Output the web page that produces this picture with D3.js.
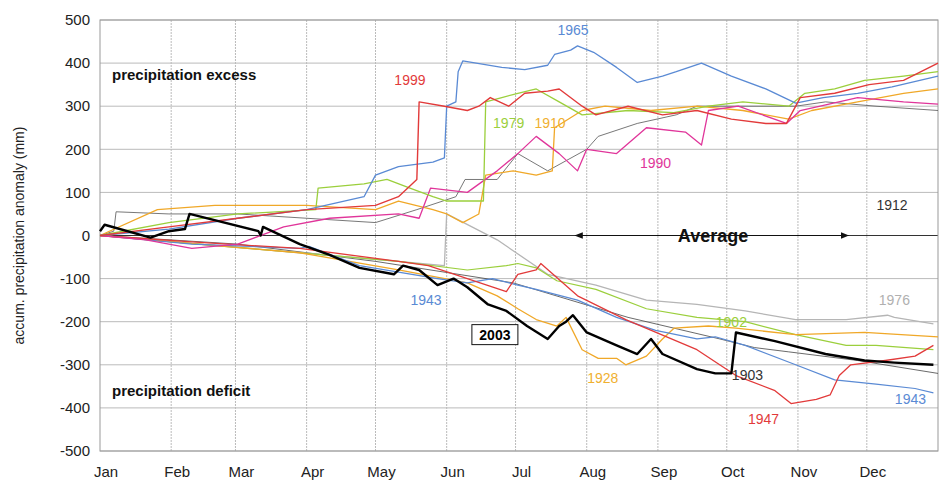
<!DOCTYPE html>
<html><head><meta charset="utf-8">
<script src="https://cdn.jsdelivr.net/npm/d3@7"></script>
<style>body{margin:0;background:#fff}svg{display:block;font-family:"Liberation Sans",Arial,sans-serif}</style>
</head><body><svg id="chart"></svg>
<script>
// months and ticks
const months = ["Jan","Feb","Mar","Apr","May","Jun","Jul","Aug","Sep","Oct","Nov","Dec"];
const monthStart = [0,31,59,90,120,151,181,212,243,273,304,334];
const yTicks = [-500,-400,-300,-200,-100,0,100,200,300,400,500];

// series: [day of year, accumulated anomaly mm]
const s1965 = [[0,0],[30,15],[60,40],[90,60],[115,90],[120,140],[130,160],[145,170],[150,180],[151,300],[155,310],[156,380],[158,405],[175,390],[185,385],[195,395],[198,420],[205,430],[208,440],[215,425],[225,390],[234,355],[245,370],[251,380],[262,400],[275,370],[290,340],[303,307],[315,320],[330,330],[345,345],[365,370]];
const s1999 = [[0,0],[30,20],[60,40],[90,60],[120,70],[130,90],[138,130],[139,310],[150,300],[160,290],[165,300],[170,320],[178,300],[185,330],[195,335],[200,340],[210,300],[216,280],[230,300],[245,280],[260,290],[275,270],[290,260],[299,260],[305,320],[320,330],[335,350],[350,360],[365,400]];
const s1979 = [[0,0],[30,30],[60,50],[94,60],[95,110],[115,120],[125,130],[135,110],[145,90],[151,80],[167,80],[168,310],[175,320],[182,330],[190,340],[200,310],[210,280],[230,290],[250,285],[265,300],[280,310],[300,300],[307,330],[320,340],[333,360],[350,370],[365,380]];
const s1910 = [[0,0],[25,60],[50,70],[90,70],[120,60],[130,80],[145,60],[151,50],[158,30],[165,50],[168,140],[180,150],[190,140],[197,150],[198,250],[210,290],[220,300],[240,290],[260,300],[280,290],[300,270],[310,290],[330,310],[350,330],[365,340]];
const s1990 = [[0,0],[20,-10],[40,-30],[60,-20],[80,20],[100,40],[130,50],[139,40],[144,110],[160,100],[173,150],[182,190],[190,230],[200,190],[208,150],[212,200],[225,190],[238,250],[255,240],[262,210],[265,290],[278,300],[299,260],[305,290],[330,320],[350,310],[365,305]];
const s1912 = [[0,0],[6,10],[7,55],[30,50],[60,50],[90,40],[120,30],[138,60],[155,90],[159,130],[173,130],[182,190],[195,150],[212,200],[217,230],[234,260],[251,280],[260,300],[303,300],[316,310],[338,300],[365,290]];
const s1943 = [[0,0],[40,-20],[87,-30],[91,-25],[113,-70],[130,-85],[147,-100],[160,-110],[171,-100],[182,-115],[190,-125],[208,-150],[225,-190],[242,-220],[260,-240],[268,-235],[281,-255],[303,-300],[320,-335],[338,-345],[355,-355],[363,-365]];
const s1947 = [[0,0],[40,-15],[87,-30],[130,-60],[143,-70],[160,-100],[177,-130],[182,-90],[190,-80],[192,-65],[208,-140],[229,-195],[260,-265],[277,-325],[294,-360],[301,-390],[312,-380],[318,-370],[322,-325],[327,-300],[342,-290],[355,-280],[363,-255]];
const s1928 = [[0,0],[43,-20],[87,-40],[130,-80],[160,-110],[173,-140],[182,-170],[190,-195],[199,-210],[203,-190],[210,-265],[217,-285],[225,-285],[229,-300],[238,-280],[245,-240],[250,-215],[265,-210],[277,-215],[303,-230],[333,-225],[365,-235]];
const s1976 = [[0,0],[43,-20],[87,-40],[130,-60],[150,-70],[151,50],[173,-10],[195,-90],[216,-115],[238,-150],[260,-160],[281,-175],[303,-195],[325,-195],[343,-185],[346,-190],[363,-205]];
const s1902 = [[0,0],[43,-20],[87,-40],[130,-60],[160,-80],[177,-70],[182,-65],[190,-75],[199,-105],[216,-125],[238,-170],[260,-190],[281,-200],[303,-230],[325,-255],[338,-255],[363,-265]];
const s1903 = [[0,0],[60,-20],[120,-60],[180,-110],[230,-190],[270,-240],[285,-260],[300,-270],[330,-290],[365,-320]];
const s2003 = [[0,10],[2,25],[22,-5],[30,10],[37,15],[39,50],[69,10],[70,0],[71,20],[87,-20],[100,-45],[113,-75],[128,-90],[132,-70],[139,-80],[147,-115],[154,-100],[160,-120],[169,-160],[177,-175],[186,-210],[195,-240],[200,-210],[203,-200],[206,-185],[212,-225],[225,-255],[234,-275],[240,-240],[245,-275],[260,-310],[268,-320],[275,-320],[277,-225],[294,-245],[316,-275],[333,-290],[346,-295],[363,-300]];

const series = [
  {data:s1903,color:"#444",w:0.8},
  {data:s1976,color:"#b5b5b5",w:1.3},
  {data:s1902,color:"#9bcf3c",w:1.2},
  {data:s1928,color:"#f0a828",w:1.3},
  {data:s1943,color:"#5a8ad4",w:1.2},
  {data:s1947,color:"#e23a3a",w:1.3},
  {data:s1912,color:"#555",w:0.8},
  {data:s1910,color:"#f0a828",w:1.3},
  {data:s1990,color:"#e0359a",w:1.3},
  {data:s1979,color:"#9bcf3c",w:1.3},
  {data:s1965,color:"#5a8ad4",w:1.3},
  {data:s1999,color:"#e23a3a",w:1.4},
  {data:s2003,color:"#000",w:2.4}
];

const labels = [
  {t:"1965",d:206,v:477,c:"#5a8ad4"},{t:"1999",d:135,v:360,c:"#e23a3a"},
  {t:"1979",d:178,v:260,c:"#9bcf3c"},{t:"1910",d:196,v:260,c:"#f0b030"},
  {t:"1990",d:242,v:168,c:"#e0359a"},{t:"1912",d:345,v:70,c:"#333"},
  {t:"1943",d:142,v:-150,c:"#5a8ad4"},{t:"1928",d:219,v:-330,c:"#f0b030"},
  {t:"1902",d:275,v:-200,c:"#9bcf3c"},{t:"1903",d:282,v:-325,c:"#333"},
  {t:"1947",d:289,v:-425,c:"#e23a3a"},{t:"1976",d:346,v:-150,c:"#b0b0b0"},
  {t:"1943",d:353,v:-380,c:"#5a8ad4"}
];

const W = 946, H = 488;
const svg = d3.select("#chart").attr("width", W).attr("height", H);
const x = d3.scaleLinear().domain([0, 365]).range([100, 938]);
const y = d3.scaleLinear().domain([-500, 500]).range([451, 20]);

// grid
svg.append("g").selectAll("line").data(yTicks).join("line")
  .attr("x1", x(0)).attr("x2", x(365)).attr("y1", d => y(d)).attr("y2", d => y(d))
  .attr("stroke", d => d === 0 ? "#333" : "#bbb").attr("stroke-width", d => d === 0 ? 1.2 : 1);
svg.append("g").selectAll("line").data(monthStart.slice(1)).join("line")
  .attr("x1", d => x(d)).attr("x2", d => x(d)).attr("y1", y(500)).attr("y2", y(-500))
  .attr("stroke", "#bbb").attr("stroke-dasharray", "2,1");
svg.append("rect").attr("x", x(0)).attr("y", y(500)).attr("width", x(365) - x(0)).attr("height", y(-500) - y(500))
  .attr("fill", "none").attr("stroke", "#999");

// y axis labels
svg.append("g").selectAll("text").data(yTicks).join("text")
  .attr("x", 90).attr("y", d => y(d)).attr("dy", "0.35em").attr("text-anchor", "end")
  .attr("font-size", 15).attr("fill", "#222").text(d => d);
svg.append("g").selectAll("text").data(months).join("text")
  .attr("x", (d, i) => x(monthStart[i]) + 6).attr("y", 477).attr("text-anchor", "middle")
  .attr("font-size", 15).attr("fill", "#222").text(d => d);
svg.append("text").attr("transform", `translate(24,${y(0)}) rotate(-90)`).attr("text-anchor", "middle")
  .attr("font-size", 14).attr("fill", "#222").text("accum. precipitation anomaly (mm)");

// average arrow
svg.append("defs").append("marker").attr("id", "ah").attr("viewBox", "0 0 10 10").attr("refX", 9).attr("refY", 5)
  .attr("markerWidth", 7).attr("markerHeight", 7).attr("orient", "auto-start-reverse")
  .append("path").attr("d", "M0,1L10,5L0,9Z").attr("fill", "#111");
svg.append("line").attr("x1", x(207)).attr("x2", x(326)).attr("y1", y(0)).attr("y2", y(0))
  .attr("stroke", "#111").attr("stroke-width", 1.2)
  .attr("marker-start", "url(#ah)").attr("marker-end", "url(#ah)");

const line = d3.line().x(d => x(d[0])).y(d => y(d[1]));
svg.append("g").selectAll("path").data(series).join("path")
  .attr("d", d => line(d.data)).attr("fill", "none")
  .attr("stroke", d => d.color).attr("stroke-width", d => d.w).attr("stroke-linejoin", "round");

svg.append("rect").attr("x", x(302) - 10).attr("y", y(0) - 9).attr("width", 20).attr("height", 18).attr("fill", "none");
svg.append("text").attr("x", x(267)).attr("y", y(0) + 6).attr("text-anchor", "middle")
  .attr("font-size", 18).attr("font-weight", "bold").attr("fill", "#111").text("Average");

svg.append("text").attr("x", 112).attr("y", 80).attr("font-size", 15).attr("font-weight", "bold").attr("fill", "#111").text("precipitation excess");
svg.append("text").attr("x", 112).attr("y", 396).attr("font-size", 15).attr("font-weight", "bold").attr("fill", "#111").text("precipitation deficit");

svg.append("g").selectAll("text").data(labels).join("text")
  .attr("x", d => x(d.d)).attr("y", d => y(d.v)).attr("dy", "0.35em").attr("text-anchor", "middle")
  .attr("font-size", 14).attr("fill", d => d.c).text(d => d.t);

// 2003 boxed label
const g03 = svg.append("g").attr("transform", `translate(${x(172)},${y(-230)})`);
g03.append("rect").attr("x", -23).attr("y", -10).attr("width", 46).attr("height", 20).attr("fill", "#fff").attr("stroke", "#111");
g03.append("text").attr("dy", "0.35em").attr("text-anchor", "middle").attr("font-size", 14).attr("font-weight", "bold").text("2003");
</script></body></html>
